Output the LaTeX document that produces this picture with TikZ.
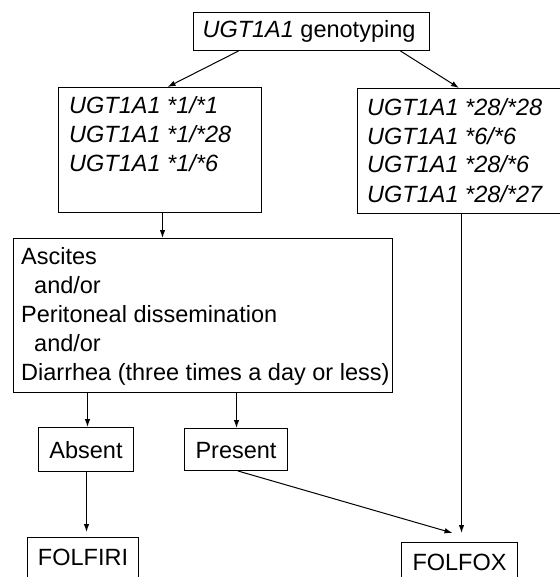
\documentclass[tikz,border=0pt]{standalone}
\usepackage{fontspec}
\setmainfont{Liberation Sans}
\usetikzlibrary{arrows.meta,calc}

\begin{document}
\begin{tikzpicture}[x=1pt,y=-1pt,
  box/.style={draw, line width=1pt, inner sep=0pt, anchor=north west},
  txt/.style={inner sep=0pt, anchor=base west, font=\fontsize{23.5}{29}\selectfont},
  ctxt/.style={inner sep=0pt, anchor=base, font=\fontsize{23.5}{29}\selectfont},
  arr/.style={line width=1pt, -{Latex[length=8pt,width=5.5pt]}}
]
\useasboundingbox (0,0) rectangle (559,577);

% boxes
\node[box, minimum width=236pt, minimum height=38pt]  (top)     at (193,12)  {};
\node[box, minimum width=203pt, minimum height=125pt] (g1)      at (58,87)   {};
\node[box, minimum width=203pt, minimum height=125pt] (g2)      at (357,88)  {};
\node[box, minimum width=379pt, minimum height=154pt] (cond)    at (13,238)  {};
\node[box, minimum width=95pt,  minimum height=44pt]  (absent)  at (38,427)  {};
\node[box, minimum width=103pt, minimum height=42pt]  (present) at (184,428) {};
\node[box, minimum width=111pt, minimum height=50pt]  (folfiri) at (27,537)  {};
\node[box, minimum width=116pt, minimum height=45pt]  (folfox)  at (401,542) {};

% texts
\node[ctxt] (ttop) at (309,38) {\textit{UGT1A1} genotyping};

\node[txt] (l1) at (69,114) {\textit{UGT1A1 *1/*1}};
\node[txt] (l2) at (69,143) {\textit{UGT1A1 *1/*28}};
\node[txt] (l3) at (69,172) {\textit{UGT1A1 *1/*6}};

\node[txt] (r1) at (367,116) {\textit{UGT1A1 *28/*28}};
\node[txt] (r2) at (367,145) {\textit{UGT1A1 *6/*6}};
\node[txt] (r3) at (367,173) {\textit{UGT1A1 *28/*6}};
\node[txt] (r4) at (367,202) {\textit{UGT1A1 *28/*27}};

\node[txt] (c1) at (21,264) {Ascites};
\node[txt] (c2) at (34,293) {and/or};
\node[txt] (c3) at (21,322) {Peritoneal dissemination};
\node[txt] (c4) at (34,351) {and/or};
\node[txt] (c5) at (21,380) {Diarrhea (three times a day or less)};

\node[ctxt] (tabs)  at (absent.center  |- 0,458) {Absent};
\node[ctxt] (tpre)  at (present.center |- 0,458) {Present};
\node[ctxt] (tfiri) at (folfiri.center |- 0,565) {FOLFIRI};
\node[ctxt] (tfox)  at (folfox.center  |- 0,570) {FOLFOX};

% connectors
\draw[arr] ([xshift=-73pt]top.south) -- ([xshift=7.5pt]g1.north);
\draw[arr] ([xshift=89pt]top.south) -- (g2.north);
\draw[arr] ([xshift=2.5pt]g1.south) -- ([xshift=2.5pt]g1.south |- cond.north);
\draw[arr] ([xshift=1.5pt]absent.north |- cond.south) -- ([xshift=1.5pt]absent.north);
\draw[arr] ([xshift=0.5pt]present.north |- cond.south) -- ([xshift=0.5pt]present.north);
\draw[arr, shorten >=5pt] ([xshift=0.5pt]absent.south) -- ([xshift=0.5pt]absent.south |- folfiri.north);
\draw[arr, shorten >=9pt] ([xshift=2.5pt]g2.south) -- ([xshift=2.5pt]g2.south |- folfox.north);
\coordinate (foxin) at ($(folfox.north)+(-7,-9)$);
\draw[arr] ([xshift=2pt]present.south) -- (foxin);
\end{tikzpicture}
\end{document}
